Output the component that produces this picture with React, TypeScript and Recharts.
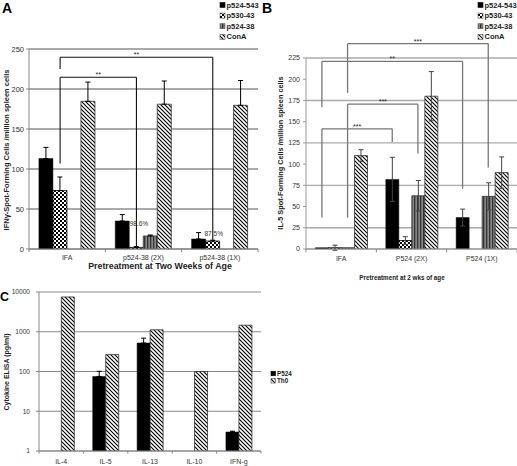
import React from 'react';
import { BarChart, Bar, XAxis, YAxis, CartesianGrid, ErrorBar, ReferenceLine, ReferenceDot } from 'recharts';

const FONT = '"Liberation Sans", Arial, Helvetica, sans-serif';

// ---------- Panel A ----------
const catsA = ['IFA', 'p524-38 (2X)', 'p524-38 (1X)'];
const a_p524_543 = [113, 35, 12.5];
const a_p524_543_err = [14, 8, 8];
const a_p530_43 = [73, 2, 10];
const a_p530_43_err = [17, 1, 1];
const a_p524_38 = [0, 16.3, 0];
const a_p524_38_err = [0, 1.2, 0];
const a_conA = [184.6, 181, 179.6];
const a_conA_err = [24, 29, 31];
const ticksA = [0, 50, 100, 150, 200, 250];
// brackets: a/b = [category index, series index]
const bracketsA = [
  { a: [0, 1], b: [2, 1], top: 239.6, aBottom: 225, bBottom: 11, label: '**' },
  { a: [0, 1], b: [1, 1], top: 214.6, aBottom: 107, bBottom: 2, label: '**' },
];
const pctLabelsA = [
  { x: 1.44, y: 32, text: '98.6%' },
  { x: 2.42, y: 19, text: '87.5%' },
];

// ---------- Panel B ----------
const catsB = ['IFA', 'P524 (2X)', 'P524 (1X)'];
const b_p524_543 = [1.5, 82, 37];
const b_p524_543_err = [0, 26, 10];
const b_p530_43 = [1.5, 10, 0];
const b_p530_43_err = [3, 4.5, 0];
const b_p524_38 = [1.5, 62.7, 62];
const b_p524_38_err = [0, 18, 16];
const b_conA = [110, 180, 90];
const b_conA_err = [7, 29, 18.5];
const ticksB = [0, 25, 50, 75, 100, 125, 150, 175, 200, 225];
const bracketsB = [
  { a: [0, 2], b: [2, 2], top: 242, aBottom: 184, bBottom: 96, label: '***' },
  { a: [0, 0], b: [2, 0], top: 221, aBottom: 167, bBottom: 71, label: '**' },
  { a: [0, 2], b: [1, 2], top: 170.6, aBottom: 37, bBottom: 112.6, label: '***' },
  { a: [0, 0], b: [1, 0], top: 141.6, aBottom: 37, bBottom: 126, label: '***' },
];

// ---------- Panel C ----------
const catsC = ['IL-4', 'IL-5', 'IL-13', 'IL-10', 'IFN-g'];
const c_p524 = [1, 75, 520, 1, 3];
const c_p524_err = [0.25, 26, 170, 0.03, 0.15];
const c_th0 = [7500, 266, 1120, 100, 1460];
const ticksC = [1, 10, 100, 1000, 10000];

const legendABItems = [
  { name: 'p524-543', fill: '#000' },
  { name: 'p530-43', fill: 'url(#chk)' },
  { name: 'p524-38', fill: 'url(#vs)' },
  { name: 'ConA', fill: 'url(#hatch)' },
];
const legendCItems = [
  { name: 'P524', fill: '#000' },
  { name: 'Th0', fill: 'url(#hatch)' },
];

const oneSided = (e: number) => (e ? [0, e] : null);
const both = (e: number) => (e ? e : null);
// helper field spanning [0, n] so the hidden numeric x axis covers the category range
const unitField = (i: number, n: number) => (i === n - 1 ? n : i);

const dataA = catsA.map((name, i) => ({
  name, u: unitField(i, catsA.length),
  s1: a_p524_543[i], e1: oneSided(a_p524_543_err[i]),
  s2: a_p530_43[i], e2: oneSided(a_p530_43_err[i]),
  s3: a_p524_38[i], e3: oneSided(a_p524_38_err[i]),
  s4: a_conA[i], e4: oneSided(a_conA_err[i]),
}));
const dataB = catsB.map((name, i) => ({
  name, u: unitField(i, catsB.length),
  s1: b_p524_543[i], e1: both(b_p524_543_err[i]),
  s2: b_p530_43[i], e2: both(b_p530_43_err[i]),
  s3: b_p524_38[i], e3: both(b_p524_38_err[i]),
  s4: b_conA[i], e4: both(b_conA_err[i]),
}));
const dataC = catsC.map((name, i) => ({
  name, u: unitField(i, catsC.length),
  p: c_p524[i], pe: oneSided(c_p524_err[i]),
  t: c_th0[i],
}));

const barCenter = (cat: number, k: number, n: number, gap: number) =>
  cat + gap + ((k + 0.5) * (1 - 2 * gap)) / n;

function bracketEls(list: any[], gap: number, n: number, color: string, sw: number, prefix: string) {
  const out: any[] = [];
  list.forEach((br, i) => {
    const xa = barCenter(br.a[0], br.a[1], n, gap);
    const xb = barCenter(br.b[0], br.b[1], n, gap);
    out.push(
      <ReferenceLine key={`${prefix}h${i}`} xAxisId="n" ifOverflow="visible" stroke={color} strokeWidth={sw}
        segment={[{ x: xa, y: br.top }, { x: xb, y: br.top }]} />,
      <ReferenceLine key={`${prefix}a${i}`} xAxisId="n" ifOverflow="visible" stroke={color} strokeWidth={sw}
        segment={[{ x: xa, y: br.top }, { x: xa, y: br.aBottom }]} />,
      <ReferenceLine key={`${prefix}b${i}`} xAxisId="n" ifOverflow="visible" stroke={color} strokeWidth={sw}
        segment={[{ x: xb, y: br.top }, { x: xb, y: br.bBottom }]} />,
      <ReferenceDot key={`${prefix}l${i}`} xAxisId="n" ifOverflow="visible" x={(xa + xb) / 2} y={br.top} r={0}
        fill="none" stroke="none"
        label={{ value: br.label, position: 'top', offset: 0, fontSize: 7, fill: '#222', fontFamily: FONT }} />
    );
  });
  return out;
}

function boundaryTicks(count: number, y0: number, y1: number, prefix: string) {
  const out: any[] = [];
  for (let i = 0; i <= count; i++) {
    out.push(
      <ReferenceLine key={`${prefix}t${i}`} xAxisId="n" ifOverflow="visible" stroke="#888" strokeWidth={1}
        segment={[{ x: i, y: y0 }, { x: i, y: y1 }]} />
    );
  }
  return out;
}

const tickStyle = { fontSize: 7, fill: '#333', fontFamily: FONT };

function ChartA() {
  const gap = 0.13;
  return (
    <BarChart width={260} height={280} data={dataA} margin={{ top: 49, right: 2, left: 0, bottom: 17 }}
      barCategoryGap="13%" barGap={0}>
      <CartesianGrid vertical={false} stroke="#555" strokeWidth={1} />
      <XAxis dataKey="name" tickLine={false} axisLine={{ stroke: '#888' }} tick={tickStyle} height={14}
        tickSize={0} tickMargin={6} interval={0} />
      <XAxis xAxisId="n" dataKey="u" type="number" domain={[0, 3]} allowDataOverflow hide />
      <YAxis domain={[0, 250]} ticks={ticksA} width={29} tick={{ ...tickStyle, fontSize: 7.5 }} tickSize={3}
        tickMargin={2} axisLine={{ stroke: '#888' }} tickLine={{ stroke: '#888' }} allowDataOverflow />
      <Bar dataKey="s1" fill="#000" stroke="#000" strokeWidth={0.5} isAnimationActive={false}>
        <ErrorBar dataKey="e1" width={2.5} stroke="#000" strokeWidth={1} direction="y" />
      </Bar>
      <Bar dataKey="s2" fill="url(#chk)" stroke="#000" strokeWidth={0.8} isAnimationActive={false}>
        <ErrorBar dataKey="e2" width={2.5} stroke="#000" strokeWidth={1} direction="y" />
      </Bar>
      <Bar dataKey="s3" fill="url(#vs)" stroke="#333" strokeWidth={0.8} isAnimationActive={false}>
        <ErrorBar dataKey="e3" width={2.5} stroke="#000" strokeWidth={1} direction="y" />
      </Bar>
      <Bar dataKey="s4" fill="url(#hatch)" stroke="#333" strokeWidth={0.8} isAnimationActive={false}>
        <ErrorBar dataKey="e4" width={2.5} stroke="#000" strokeWidth={1} direction="y" />
      </Bar>
      {boundaryTicks(3, 0, -4, 'A')}
      {bracketEls(bracketsA, gap, 4, '#111', 1.1, 'A')}
      {pctLabelsA.map((p, i) => (
        <ReferenceDot key={`pct${i}`} xAxisId="n" x={p.x} y={p.y} r={0} fill="none" stroke="none" ifOverflow="visible"
          label={{ value: p.text, position: 'center', fontSize: 6.5, fill: '#333', fontFamily: FONT }} />
      ))}
    </BarChart>
  );
}

function ChartB() {
  const gap = 0.135;
  return (
    <BarChart width={259} height={290} data={dataB} margin={{ top: 58, right: 0, left: 0, bottom: 27 }}
      barCategoryGap="13.5%" barGap={0}>
      <CartesianGrid vertical={false} stroke="#aaa" strokeWidth={1.4} />
      <XAxis dataKey="name" tickLine={false} axisLine={{ stroke: '#999' }} tick={tickStyle} height={14}
        tickSize={0} tickMargin={7} interval={0} />
      <XAxis xAxisId="n" dataKey="u" type="number" domain={[0, 3]} allowDataOverflow hide />
      <YAxis domain={[0, 225]} ticks={ticksB} width={48} tick={tickStyle} tickSize={3}
        tickMargin={3} axisLine={{ stroke: '#999' }} tickLine={{ stroke: '#999' }} allowDataOverflow />
      <Bar dataKey="s1" fill="#000" stroke="#000" strokeWidth={0.5} isAnimationActive={false}>
        <ErrorBar dataKey="e1" width={2.5} stroke="#444" strokeWidth={1} direction="y" />
      </Bar>
      <Bar dataKey="s2" fill="url(#chk)" stroke="#000" strokeWidth={0.8} isAnimationActive={false}>
        <ErrorBar dataKey="e2" width={2.5} stroke="#444" strokeWidth={1} direction="y" />
      </Bar>
      <Bar dataKey="s3" fill="url(#vs)" stroke="#333" strokeWidth={0.8} isAnimationActive={false}>
        <ErrorBar dataKey="e3" width={2.5} stroke="#444" strokeWidth={1} direction="y" />
      </Bar>
      <Bar dataKey="s4" fill="url(#hatch)" stroke="#333" strokeWidth={0.8} isAnimationActive={false}>
        <ErrorBar dataKey="e4" width={2.5} stroke="#444" strokeWidth={1} direction="y" />
      </Bar>
      {boundaryTicks(3, 0, -4, 'B')}
      {bracketEls(bracketsB, gap, 4, '#777', 1.3, 'B')}
    </BarChart>
  );
}

function ChartC() {
  return (
    <BarChart width={262} height={186} data={dataC} margin={{ top: 12, right: 1, left: 0, bottom: 1 }}
      barCategoryGap="21%" barGap={0}>
      <CartesianGrid vertical={false} stroke="#888" strokeWidth={1} />
      <XAxis dataKey="name" tickLine={false} axisLine={{ stroke: '#888' }} tick={tickStyle} height={14}
        tickSize={0} tickMargin={8} interval={0} />
      <XAxis xAxisId="n" dataKey="u" type="number" domain={[0, 5]} allowDataOverflow hide />
      <YAxis scale="log" type="number" domain={[1, 10000]} ticks={ticksC} width={39}
        tick={{ ...tickStyle, fontSize: 6.6 }} tickSize={3}
        tickMargin={6} axisLine={{ stroke: '#888' }} tickLine={{ stroke: '#888' }} allowDataOverflow />
      <Bar dataKey="p" fill="#000" stroke="#000" strokeWidth={0.5} isAnimationActive={false}>
        <ErrorBar dataKey="pe" width={2.5} stroke="#000" strokeWidth={1} direction="y" />
      </Bar>
      <Bar dataKey="t" fill="url(#hatch)" stroke="#333" strokeWidth={0.8} isAnimationActive={false} />
      {boundaryTicks(5, 1, 0.86, 'C')}
    </BarChart>
  );
}

function Legend({ x, y, step, size, fontSize, items }: any) {
  return (
    <g>
      {items.map((it: any, i: number) => (
        <g key={it.name}>
          <rect x={x} y={y + i * step - size / 2} width={size} height={size} fill={it.fill}
            stroke={it.fill === '#000' ? '#000' : '#555'} strokeWidth={0.6} />
          <text x={x + size + 1.5} y={y + i * step} dominantBaseline="central" fontSize={fontSize}
            fontWeight="bold" fill="#222" fontFamily={FONT}>{it.name}</text>
        </g>
      ))}
    </g>
  );
}

export default function App() {
  return (
    <div style={{ position: 'absolute', left: 0, top: 0, width: 517, height: 466, background: '#fff', overflow: 'hidden' }}>
      <svg width={0} height={0} style={{ position: 'absolute' }}>
        <defs>
          <pattern id="chk" width="4" height="4" patternUnits="userSpaceOnUse">
            <rect width="4" height="4" fill="#fff" />
            <rect width="2" height="2" fill="#000" />
            <rect x="2" y="2" width="2" height="2" fill="#000" />
          </pattern>
          <pattern id="hatch" width="4" height="4" patternUnits="userSpaceOnUse">
            <rect width="4" height="4" fill="#fff" />
            <path d="M-1,-1 L5,5 M-1,3 L1,5 M3,-1 L5,1" stroke="#000" strokeWidth="1.1" />
          </pattern>
          <pattern id="vs" width="3" height="3" patternUnits="userSpaceOnUse">
            <rect width="3" height="3" fill="#888" />
            <rect width="1.3" height="3" fill="#333" />
          </pattern>
        </defs>
      </svg>
      <div style={{ position: 'absolute', left: 0, top: 0 }}><ChartA /></div>
      <div style={{ position: 'absolute', left: 258, top: 0 }}><ChartB /></div>
      <div style={{ position: 'absolute', left: 0, top: 280 }}><ChartC /></div>
      <svg width={517} height={466} style={{ position: 'absolute', left: 0, top: 0, pointerEvents: 'none' }}>
        <text x={2} y={13} fontSize={14} fontWeight="bold" fontFamily={FONT} fill="#000">A</text>
        <text x={262} y={13} fontSize={14} fontWeight="bold" fontFamily={FONT} fill="#000">B</text>
        <text x={0} y={301} fontSize={12.5} fontWeight="bold" fontFamily={FONT} fill="#000">C</text>
        <text transform="translate(6.5,150) rotate(-90)" textAnchor="middle" dominantBaseline="central"
          fontSize={7.5} fontWeight="bold" fontFamily={FONT} fill="#222">IFNγ-Spot-Forming Cells /million spleen cells</text>
        <text x={160} y={266} textAnchor="middle" dominantBaseline="central" fontSize={8.8} fontWeight="bold"
          fontFamily={FONT} fill="#222">Pretreatment at Two Weeks of Age</text>
        <text transform="translate(280,153) rotate(-90)" textAnchor="middle" dominantBaseline="central"
          fontSize={7.3} fontWeight="bold" fontFamily={FONT} fill="#222">IL-5 Spot-Forming Cells /million spleen cells</text>
        <text x={402} y={277} textAnchor="middle" dominantBaseline="central" fontSize={6.3} fontWeight="bold"
          fontFamily={FONT} fill="#222">Pretreatment at 2 wks of age</text>
        <text transform="translate(6,372) rotate(-90)" textAnchor="middle" dominantBaseline="central"
          fontSize={7} fontWeight="bold" fontFamily={FONT} fill="#222">Cytokine ELISA  (pg/ml)</text>
        <Legend x={220} y={5} step={10.6} size={5} fontSize={7.5} items={legendABItems} />
        <Legend x={478} y={5} step={10.6} size={5} fontSize={7.5} items={legendABItems} />
        <Legend x={271} y={373.5} step={7.3} size={4.5} fontSize={6.3} items={legendCItems} />
      </svg>
    </div>
  );
}
